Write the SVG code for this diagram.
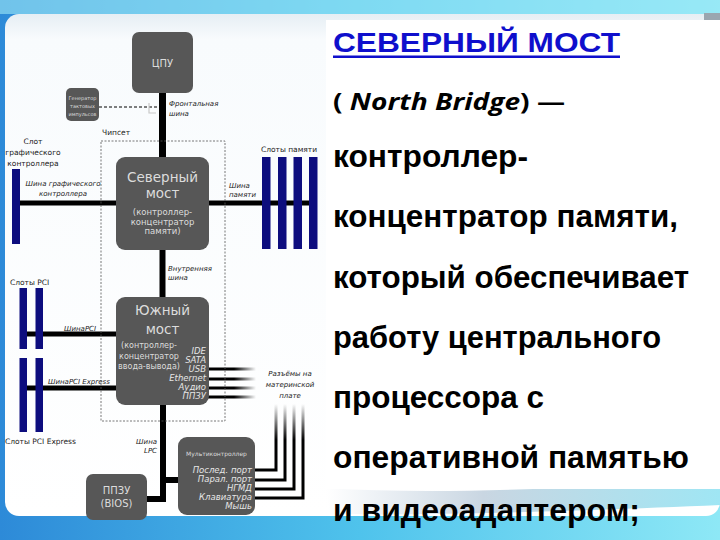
<svg xmlns="http://www.w3.org/2000/svg" width="720" height="540" viewBox="0 0 720 540">
<defs>
<linearGradient id="bg" x1="0" y1="0" x2="1" y2="0">
<stop offset="0" stop-color="#2d8ad8"/>
<stop offset="0.5" stop-color="#4fc3ec"/>
<stop offset="1" stop-color="#8ee8f6"/>
</linearGradient>
<linearGradient id="panel" x1="0" y1="0" x2="0" y2="1">
<stop offset="0" stop-color="#e6eef4"/>
<stop offset="0.05" stop-color="#f8fbfd"/>
<stop offset="1" stop-color="#ffffff"/>
</linearGradient>
<linearGradient id="swoosh" x1="0" y1="0" x2="1" y2="0">
<stop offset="0" stop-color="#ffffff"/>
<stop offset="0.4" stop-color="#c9d6e2"/>
<stop offset="1" stop-color="#9fe6f4"/>
</linearGradient>
<linearGradient id="fadeX" gradientUnits="userSpaceOnUse" x1="212" y1="0" x2="256" y2="0">
<stop offset="0" stop-color="#000"/>
<stop offset="0.5" stop-color="#000"/>
<stop offset="1" stop-color="#000" stop-opacity="0"/>
</linearGradient>
<linearGradient id="fadeY" gradientUnits="userSpaceOnUse" x1="0" y1="404" x2="0" y2="440">
<stop offset="0" stop-color="#000" stop-opacity="0"/>
<stop offset="1" stop-color="#000"/>
</linearGradient>
<style>
.node{fill:#575757}
.nt{font-family:"DejaVu Sans",sans-serif;fill:#dcdcdc;text-anchor:middle}
.ni{font-family:"DejaVu Sans",sans-serif;fill:#e6e6e6;font-style:italic;text-anchor:end;font-size:8.5px}
.lb{font-family:"DejaVu Sans",sans-serif;fill:#1a1a1a;font-size:7.5px}
.li{font-family:"DejaVu Sans",sans-serif;fill:#1a1a1a;font-size:7px;font-style:italic}
.slot{fill:#0d0d7e}
.bus{stroke:#000;fill:none}
.body{font-family:"Liberation Sans",Arial,sans-serif;font-weight:bold;font-size:31px;fill:#000}
</style>
</defs>
<rect x="0" y="0" width="720" height="540" fill="url(#bg)"/>
<rect x="0" y="0" width="720" height="14" fill="#9fe9f6" opacity="0.6"/>
<rect x="5" y="14" width="715" height="502" rx="14" fill="url(#panel)"/>
<rect x="704" y="13" width="16" height="7" fill="#9aa6b0"/>
<path d="M326 488 C 450 496, 580 486, 720 482 L720 505 C 600 510, 450 516, 330 514 Z" fill="url(#swoosh)"/>
<rect x="326" y="20" width="394" height="469" fill="#ffffff"/>

<g id="connectors">
<line class="bus" x1="162.5" y1="92" x2="162.5" y2="158" stroke-width="7"/>
<line x1="99" y1="107" x2="159" y2="107" stroke="#000" stroke-width="1" stroke-dasharray="3,2"/>
<polyline points="149,103 149,113 156,113" fill="none" stroke="#c8c8c8" stroke-width="1.2"/>
<line class="bus" x1="20" y1="203" x2="117" y2="203" stroke-width="5"/>
<line class="bus" x1="208" y1="203" x2="317" y2="203" stroke-width="5"/>
<line class="bus" x1="162.5" y1="249" x2="162.5" y2="298" stroke-width="6"/>
<line class="bus" x1="24" y1="334" x2="117" y2="334" stroke-width="5"/>
<line class="bus" x1="24" y1="388" x2="117" y2="388" stroke-width="5"/>
<g stroke="url(#fadeX)" stroke-width="3">
<line x1="208" y1="369" x2="256" y2="369"/>
<line x1="208" y1="379" x2="256" y2="379"/>
<line x1="208" y1="388" x2="256" y2="388"/>
<line x1="208" y1="397" x2="256" y2="397"/>
</g>
<g stroke="url(#fadeY)" stroke-width="3" fill="none">
<path d="M254 470 H276 V404"/>
<path d="M254 480 H285 V404"/>
<path d="M254 489 H294 V404"/>
<path d="M254 498 H303 V404"/>
</g>
<line class="bus" x1="163" y1="404" x2="163" y2="502" stroke-width="6"/>
<line class="bus" x1="160" y1="480" x2="179" y2="480" stroke-width="6"/>
<line class="bus" x1="146" y1="499" x2="166" y2="499" stroke-width="6"/>
</g>

<g id="chipset">
<rect x="101" y="141" width="124" height="280" fill="none" stroke="#555" stroke-width="0.8" stroke-dasharray="2,1.5"/>
<text class="lb" x="102" y="135" font-size="8.5">Чипсет</text>
</g>

<g id="cpu">
<rect class="node" x="132" y="32" width="61" height="61" rx="7"/>
<text class="nt" x="162.5" y="67" font-size="10">ЦПУ</text>
</g>

<g id="clock">
<rect class="node" x="66" y="88" width="33" height="33" rx="5"/>
<text class="nt" x="82.5" y="100" font-size="5">Генератор</text>
<text class="nt" x="82.5" y="108" font-size="5">тактовых</text>
<text class="nt" x="82.5" y="116" font-size="5">импульсов</text>
</g>
<g id="fsb-label">
<text class="li" x="169" y="106" font-size="8">Фронтальная</text>
<text class="li" x="169" y="116" font-size="8">шина</text>
</g>

<g id="northbridge">
<rect class="node" x="116" y="157" width="93" height="93" rx="9"/>
<text class="nt" x="162.5" y="182" font-size="13.5">Северный</text>
<text class="nt" x="162.5" y="198" font-size="13.5">мост</text>
<text class="nt" x="162.5" y="215" font-size="8.5">(контроллер-</text>
<text class="nt" x="162.5" y="224.5" font-size="8.5">концентратор</text>
<text class="nt" x="162.5" y="234" font-size="8.5">памяти)</text>
</g>

<g id="graphics-slot">
<rect class="slot" x="12" y="169" width="8" height="75"/>
<text class="lb" x="33" y="144" text-anchor="middle" font-size="8.5">Слот</text>
<text class="lb" x="33" y="155" text-anchor="middle" font-size="8.5">графического</text>
<text class="lb" x="33" y="166" text-anchor="middle" font-size="8.5">контроллера</text>
<text class="li" x="63" y="186" text-anchor="middle">Шина графического</text>
<text class="li" x="63" y="196" text-anchor="middle">контроллера</text>
</g>

<g id="memory-slots">
<rect class="slot" x="262" y="157" width="8.5" height="92"/>
<rect class="slot" x="278" y="157" width="8.5" height="92"/>
<rect class="slot" x="293.5" y="157" width="8.5" height="92"/>
<rect class="slot" x="309" y="157" width="8.5" height="92"/>
<text class="lb" x="289" y="152" text-anchor="middle">Слоты памяти</text>
<text class="li" x="229" y="188">Шина</text>
<text class="li" x="229" y="197">памяти</text>
</g>

<g id="internal-label">
<text class="li" x="168" y="271" font-size="7.5">Внутренняя</text>
<text class="li" x="168" y="280" font-size="7.5">шина</text>
</g>

<g id="southbridge">
<rect class="node" x="116" y="297" width="93" height="108" rx="9"/>
<text class="nt" x="162.5" y="315" font-size="13.5">Южный</text>
<text class="nt" x="162.5" y="334" font-size="13.5">мост</text>
<text class="nt" x="149" y="348" font-size="8">(контроллер-</text>
<text class="nt" x="149" y="358.5" font-size="8">концентратор</text>
<text class="nt" x="149" y="368.5" font-size="8">ввода-вывода)</text>
<text class="ni" x="206" y="354">IDE</text>
<text class="ni" x="206" y="363">SATA</text>
<text class="ni" x="206" y="372">USB</text>
<text class="ni" x="206" y="381">Ethernet</text>
<text class="ni" x="206" y="390">Аудио</text>
<text class="ni" x="206" y="398.5">ППЗУ</text>
</g>

<g id="connectors-label">
<text class="li" x="290" y="376" text-anchor="middle" font-size="9.5">Разъёмы на</text>
<text class="li" x="290" y="387" text-anchor="middle" font-size="9.5">материнской</text>
<text class="li" x="290" y="398" text-anchor="middle" font-size="9.5">плате</text>
</g>

<g id="pci-slots">
<rect class="slot" x="19.5" y="288" width="7.5" height="61"/>
<rect class="slot" x="35.5" y="288" width="7.5" height="61"/>
<text class="lb" x="10" y="285">Слоты PCI</text>
<text class="li" x="64" y="331">ШинаPCI</text>
</g>
<g id="pcie-slots">
<rect class="slot" x="19.5" y="358" width="7.5" height="74"/>
<rect class="slot" x="35.5" y="358" width="7.5" height="74"/>
<text class="li" x="48" y="384" font-size="6.5">ШинаPCI Express</text>
<text class="lb" x="5" y="444">Слоты PCI Express</text>
</g>

<g id="lpc-label">
<text class="li" x="157" y="444" text-anchor="end">Шина</text>
<text class="li" x="157" y="453" text-anchor="end">LPC</text>
</g>

<g id="multicontroller">
<rect class="node" x="178" y="437" width="77" height="78" rx="9"/>
<text class="nt" x="216.5" y="456" font-size="6">Мультиконтроллер</text>
<text class="ni" x="252" y="473">Послед. порт</text>
<text class="ni" x="252" y="482">Парал. порт</text>
<text class="ni" x="252" y="491">НГМД</text>
<text class="ni" x="252" y="500">Клавиатура</text>
<text class="ni" x="252" y="509">Мышь</text>
</g>

<g id="bios">
<rect class="node" x="86" y="474" width="61" height="46" rx="7"/>
<text class="nt" x="116.5" y="494" font-size="10">ППЗУ</text>
<text class="nt" x="116.5" y="507" font-size="10">(BIOS)</text>
</g>

<g id="text-block">
<text x="333" y="52" font-family="'Liberation Sans',Arial,sans-serif" font-weight="bold" font-size="28" fill="#0f0fcc" textLength="287" lengthAdjust="spacingAndGlyphs">СЕВЕРНЫЙ МОСТ</text>
<rect x="333" y="55.5" width="287" height="2.5" fill="#0f0fcc"/>
<text x="333" y="110" font-family="'Open Sans',Lato,sans-serif" font-weight="bold" font-size="24" fill="#000" textLength="232" lengthAdjust="spacingAndGlyphs">( <tspan font-style="italic">North Bridge</tspan>) —</text>
<text class="body" x="333" y="167" textLength="195" lengthAdjust="spacingAndGlyphs">контроллер-</text>
<text class="body" x="333" y="227" textLength="345" lengthAdjust="spacingAndGlyphs">концентратор памяти,</text>
<text class="body" x="333" y="288" textLength="356" lengthAdjust="spacingAndGlyphs">который обеспечивает</text>
<text class="body" x="333" y="348" textLength="328" lengthAdjust="spacingAndGlyphs">работу центрального</text>
<text class="body" x="333" y="408" textLength="211" lengthAdjust="spacingAndGlyphs">процессора с</text>
<text class="body" x="333" y="468" textLength="356" lengthAdjust="spacingAndGlyphs">оперативной памятью</text>
<text class="body" x="333" y="521" textLength="307" lengthAdjust="spacingAndGlyphs">и видеоадаптером;</text>
</g>
</svg>
